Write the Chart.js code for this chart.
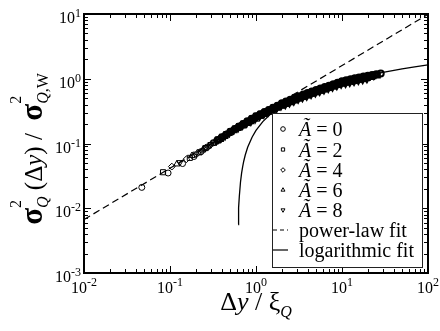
<!DOCTYPE html>
<html><head><meta charset="utf-8">
<script src="https://cdn.jsdelivr.net/npm/chart.js@4/dist/chart.umd.min.js"></script>
<style>html,body{margin:0;padding:0;background:#fff;}#wrap{width:440px;height:331px;}</style>
</head><body><div id="wrap"><canvas id="c" width="440" height="331"></canvas></div>
<script>
// ---- axis ticks ----
const xTickValues = [0.01, 0.1, 1, 10, 100];
const xTickExponents = ['-2', '-1', '0', '1', '2'];
const yTickValues = [0.001, 0.01, 0.1, 1, 10];
const yTickExponents = ['-3', '-2', '-1', '0', '1'];

// ---- legend labels ----
const seriesLabels = ['Ã = 0', 'Ã = 2', 'Ã = 4', 'Ã = 6', 'Ã = 8'];
const fitLabels = ['power-law fit', 'logarithmic fit'];

// ---- data ----
const A0_x = [0.047,0.095,0.14,0.19,0.23,0.27,0.316,0.355,0.398,0.447,0.501,0.562,0.631,0.708,0.794,0.891,1.00,1.12,1.26,1.41,1.58,1.78,2.00,2.24,2.51,2.82,3.16,3.55,3.98,4.47,5.01,5.62,6.31,7.08,7.94,8.91,10.0,11.2,12.6,14.1,15.8,17.8,20.0,22.4,25.1,28.2];
const A0_y = [0.021,0.035,0.049,0.063,0.075,0.088,0.102,0.113,0.125,0.138,0.153,0.166,0.182,0.198,0.221,0.241,0.264,0.284,0.306,0.330,0.355,0.382,0.418,0.445,0.475,0.508,0.538,0.569,0.601,0.635,0.671,0.706,0.743,0.781,0.824,0.867,0.917,0.949,0.980,1.015,1.048,1.083,1.115,1.147,1.176,1.209];
const A2_x = [0.083,0.17,0.22,0.26,0.324,0.363,0.407,0.457,0.513,0.575,0.646,0.724,0.813,0.912,1.02,1.15,1.29,1.45,1.62,1.82,2.04,2.29,2.57,2.88,3.24,3.63,4.07,4.57,5.13,5.75,6.46,7.24,8.13,9.12,10.2,11.5,12.9,14.5,16.2,18.2,20.4,22.9,25.7];
const A2_y = [0.036,0.060,0.073,0.085,0.103,0.114,0.126,0.139,0.154,0.168,0.183,0.200,0.219,0.239,0.262,0.283,0.304,0.327,0.352,0.379,0.409,0.437,0.466,0.498,0.527,0.557,0.589,0.622,0.658,0.692,0.728,0.766,0.807,0.849,0.892,0.923,0.953,0.987,1.019,1.053,1.084,1.115,1.144];
const A4_x = [0.105,0.155,0.21,0.25,0.29,0.331,0.372,0.417,0.468,0.525,0.589,0.661,0.741,0.832,0.933,1.05,1.17,1.32,1.48,1.66,1.86,2.09,2.34,2.63,2.95,3.31,3.72,4.17,4.68,5.25,5.89,6.61,7.41,8.32,9.33,10.5,11.7,13.2,14.8,16.6,18.6,20.9,23.4];
const A4_y = [0.044,0.057,0.071,0.082,0.093,0.104,0.115,0.127,0.141,0.156,0.170,0.186,0.203,0.220,0.240,0.263,0.284,0.305,0.329,0.354,0.381,0.407,0.434,0.463,0.495,0.525,0.554,0.586,0.619,0.654,0.688,0.724,0.762,0.803,0.845,0.882,0.913,0.943,0.977,1.008,1.041,1.073,1.103];
const A6_x = [0.12,0.18,0.24,0.28,0.339,0.380,0.427,0.479,0.537,0.603,0.676,0.759,0.851,0.955,1.07,1.20,1.35,1.51,1.70,1.91,2.14,2.40,2.69,3.02,3.39,3.80,4.27,4.79,5.37,6.03,6.76,7.59,8.51,9.55,10.7,12.0,13.5,15.1,17.0,19.1,21.4];
const A6_y = [0.048,0.065,0.079,0.091,0.105,0.116,0.129,0.143,0.158,0.172,0.188,0.205,0.220,0.240,0.263,0.283,0.305,0.328,0.353,0.380,0.403,0.430,0.458,0.490,0.519,0.549,0.580,0.613,0.647,0.681,0.717,0.754,0.795,0.836,0.867,0.897,0.926,0.959,0.990,1.023,1.054];
const A8_x = [0.13,0.20,0.26,0.30,0.347,0.389,0.437,0.490,0.550,0.617,0.692,0.776,0.871,0.977,1.10,1.23,1.38,1.55,1.74,1.95,2.19,2.45,2.75,3.09,3.47,3.89,4.37,4.90,5.50,6.17,6.92,7.76,8.71,9.77,11.0,12.3,13.8,15.5,17.4,19.5];
const A8_y = [0.051,0.069,0.086,0.097,0.106,0.118,0.130,0.144,0.159,0.174,0.190,0.207,0.219,0.240,0.262,0.283,0.304,0.328,0.353,0.380,0.397,0.424,0.452,0.483,0.512,0.541,0.572,0.604,0.638,0.672,0.707,0.743,0.784,0.824,0.848,0.878,0.907,0.939,0.970,1.001];

const powerFitX = [0.01, 100];
const powerFitY = [0.0067, 9.9];
const logFitX = [0.621,0.625,0.63,0.64,0.66,0.68,0.7,0.72,0.75,0.8,0.9,1.0,1.2,1.5,2,2.5,3,4,5,7,10,15,20,30,50,70,100];
const logFitY = [0.0056,0.0077,0.0102,0.0153,0.0252,0.0348,0.0441,0.0532,0.0664,0.0872,0.1251,0.159,0.2177,0.2896,0.3822,0.454,0.5127,0.6054,0.6772,0.7856,0.9004,1.031,1.1236,1.2542,1.4187,1.527,1.6419];

const seriesX = [A0_x, A2_x, A4_x, A6_x, A8_x];
const seriesY = [A0_y, A2_y, A4_y, A6_y, A8_y];

// ---- styles ----
const SERIF = '"Liberation Serif","Times New Roman","DejaVu Serif",serif';
const markerDefs = [
  {style:'circle', rot:0, r:3},
  {style:'rect', rot:0, r:3.6},
  {style:'rectRot', rot:0, r:3.4},
  {style:'triangle', rot:0, r:3.6},
  {style:'triangle', rot:180, r:3.6}
];

function pts(xs, ys) { return xs.map((x, i) => ({x: x, y: ys[i]})); }

// heavier outline where the markers crowd into a solid band
function bandWidth(c) {
  const r = c.raw;
  if (!r) return 1;
  if (r.x >= 0.6) return 2;
  if (r.x >= 0.35) return 1.5;
  return 1;
}

const datasets = seriesX.map((xs, i) => ({
  label: seriesLabels[i],
  data: pts(xs, seriesY[i]),
  showLine: false,
  pointStyle: markerDefs[i].style,
  pointRotation: markerDefs[i].rot,
  pointRadius: markerDefs[i].r,
  pointBorderWidth: bandWidth,
  pointBorderColor: '#000',
  pointBackgroundColor: 'rgba(0,0,0,0)',
  borderColor: '#000',
  backgroundColor: 'rgba(0,0,0,0)'
}));
datasets.push({
  label: fitLabels[0], data: pts(powerFitX, powerFitY), showLine: true,
  borderColor: '#000', borderWidth: 1.2, borderDash: [7, 4], pointRadius: 0, fill: false
});
datasets.push({
  label: fitLabels[1], data: pts(logFitX, logFitY), showLine: true,
  borderColor: '#000', borderWidth: 1.3, pointRadius: 0, fill: false
});

function drawRuns(ctx, runs, measureOnly) {
  let cx = 0;
  for (const r of runs) {
    if (r.stack) {
      let w = 0;
      for (const line of r.stack) {
        let lx = cx;
        for (const p of line.parts) {
          ctx.font = p.f;
          if (!measureOnly) ctx.fillText(p.t, lx, line.dy);
          lx += ctx.measureText(p.t).width;
        }
        w = Math.max(w, lx - cx);
      }
      cx += w;
    } else {
      ctx.font = r.f;
      if (!measureOnly) ctx.fillText(r.t, cx, r.dy || 0);
      cx += ctx.measureText(r.t).width;
    }
  }
  return cx;
}

function drawMarker(ctx, style, rot, x, y, r) {
  ctx.beginPath();
  if (style === 'circle') {
    ctx.arc(x, y, r, 0, Math.PI * 2);
  } else if (style === 'rect') {
    const s = r * Math.SQRT1_2;
    ctx.rect(x - s, y - s, 2 * s, 2 * s);
  } else if (style === 'rectRot') {
    ctx.moveTo(x, y - r); ctx.lineTo(x + r, y); ctx.lineTo(x, y + r); ctx.lineTo(x - r, y); ctx.closePath();
  } else {
    const d = rot === 180 ? -1 : 1;
    const h = r * 0.866;
    ctx.moveTo(x, y - d * r);
    ctx.lineTo(x + h, y + d * r * 0.5);
    ctx.lineTo(x - h, y + d * r * 0.5);
    ctx.closePath();
  }
  ctx.stroke();
}

const decor = {
  id: 'decor',
  afterDraw(chart) {
    const ctx = chart.ctx, a = chart.chartArea, xs = chart.scales.x, ys = chart.scales.y;
    ctx.save();
    ctx.fillStyle = '#000'; ctx.strokeStyle = '#000';
    // ticks (inward, all four sides)
    ctx.lineWidth = 1;
    ctx.beginPath();
    xTickValues.forEach((v, i) => {
      const mults = i < xTickValues.length - 1 ? [1,2,3,4,5,6,7,8,9] : [1];
      mults.forEach(m => {
        const px = Math.round(xs.getPixelForValue(v * m)) + 0.5;
        const len = m === 1 ? 7 : 4;
        ctx.moveTo(px, a.bottom); ctx.lineTo(px, a.bottom - len);
        ctx.moveTo(px, a.top); ctx.lineTo(px, a.top + len);
      });
    });
    yTickValues.forEach((v, i) => {
      const mults = i < yTickValues.length - 1 ? [1,2,3,4,5,6,7,8,9] : [1];
      mults.forEach(m => {
        const py = Math.round(ys.getPixelForValue(v * m)) + 0.5;
        const len = m === 1 ? 7 : 4;
        ctx.moveTo(a.left, py); ctx.lineTo(a.left + len, py);
        ctx.moveTo(a.right, py); ctx.lineTo(a.right - len, py);
      });
    });
    ctx.stroke();
    // frame
    ctx.lineWidth = 2;
    ctx.strokeRect(a.left, a.top, a.right - a.left, a.bottom - a.top);

    // tick labels
    const FB = '16px ' + SERIF, FE = '12px ' + SERIF;
    ctx.textBaseline = 'alphabetic'; ctx.textAlign = 'left';
    xTickValues.forEach((v, i) => {
      const px = xs.getPixelForValue(v);
      ctx.font = FB; const wb = ctx.measureText('10').width;
      ctx.font = FE; const we = ctx.measureText(xTickExponents[i]).width;
      const x0 = px - (wb + we) / 2;
      ctx.font = FB; ctx.fillText('10', x0, a.bottom + 20);
      ctx.font = FE; ctx.fillText(xTickExponents[i], x0 + wb, a.bottom + 13);
    });
    yTickValues.forEach((v, i) => {
      const py = ys.getPixelForValue(v);
      ctx.font = FB; const wb = ctx.measureText('10').width;
      ctx.font = FE; const we = ctx.measureText(yTickExponents[i]).width;
      const x0 = a.left - 3 - we - wb;
      ctx.font = FB; ctx.fillText('10', x0, py + 9);
      ctx.font = FE; ctx.fillText(yTickExponents[i], x0 + wb, py + 3);
    });

    // x axis title
    const xRuns = [
      {t:'Δ', f:'26px ' + SERIF},
      {t:'y', f:'italic 26px ' + SERIF},
      {t:' / ξ', f:'26px ' + SERIF},
      {stack:[{parts:[{t:'Q', f:'italic 16px ' + SERIF}], dy:7}]}
    ];
    const xw = drawRuns(ctx, xRuns, true);
    ctx.save();
    ctx.translate((a.left + a.right) / 2 - xw / 2, 310);
    drawRuns(ctx, xRuns, false);
    ctx.restore();

    // y axis title
    const FS = 'bold 31px ' + SERIF, FM = '25px ' + SERIF, FMI = 'italic 25px ' + SERIF;
    const FSUP = '16px ' + SERIF, FSUBI = 'italic 16px ' + SERIF, FSUB = '16px ' + SERIF;
    const yRuns = [
      {t:'σ', f:FS},
      {stack:[{parts:[{t:'2', f:FSUP}], dy:-21}, {parts:[{t:'Q', f:FSUBI}], dy:6}]},
      {t:' (Δ', f:FM}, {t:'y', f:FMI}, {t:') /  ', f:FM},
      {t:'σ', f:FS},
      {stack:[{parts:[{t:'2', f:FSUP}], dy:-21}, {parts:[{t:'Q', f:FSUBI}, {t:',W', f:FSUB}], dy:6}]}
    ];
    const yw = drawRuns(ctx, yRuns, true);
    ctx.save();
    ctx.translate(42, 149 + yw / 2);
    ctx.rotate(-Math.PI / 2);
    drawRuns(ctx, yRuns, false);
    ctx.restore();

    // legend
    const L = {x0: 272, y0: 113, x1: 422, y1: 267};
    ctx.fillStyle = '#fff';
    ctx.fillRect(L.x0, L.y0, L.x1 - L.x0, L.y1 - L.y0);
    ctx.lineWidth = 1; ctx.strokeStyle = '#222';
    ctx.strokeRect(L.x0 + 0.5, L.y0 + 0.5, L.x1 - L.x0, L.y1 - L.y0);
    ctx.strokeStyle = '#000'; ctx.fillStyle = '#000';
    const rowY = [129, 149.5, 170, 190, 210, 230, 250];
    const FL = '20px ' + SERIF, FLI = 'italic 20px ' + SERIF;
    seriesLabels.forEach((lab, i) => {
      drawMarker(ctx, markerDefs[i].style, markerDefs[i].rot, 283, rowY[i], 2.3);
      ctx.font = FLI; ctx.fillText(lab.charAt(0), 299, rowY[i] + 7);
      const w = ctx.measureText(lab.charAt(0)).width;
      ctx.font = FL; ctx.fillText(lab.slice(1), 299 + w, rowY[i] + 7);
    });
    // fit symbols
    ctx.lineWidth = 1.2;
    ctx.setLineDash([4, 3]);
    ctx.beginPath(); ctx.moveTo(273, rowY[5]); ctx.lineTo(288, rowY[5]); ctx.stroke();
    ctx.setLineDash([]);
    ctx.beginPath(); ctx.moveTo(273, rowY[6]); ctx.lineTo(288, rowY[6]); ctx.stroke();
    ctx.font = FL;
    ctx.fillText(fitLabels[0], 299, rowY[5] + 7);
    ctx.fillText(fitLabels[1], 299, rowY[6] + 7);
    ctx.restore();
  }
};

new Chart(document.getElementById('c'), {
  type: 'scatter',
  data: { datasets: datasets },
  options: {
    responsive: false,
    maintainAspectRatio: false,
    devicePixelRatio: 1,
    animation: false,
    events: [],
    layout: { padding: { left: 84, top: 14, right: 12, bottom: 58 } },
    plugins: { legend: { display: false }, tooltip: { enabled: false } },
    scales: {
      x: { type: 'logarithmic', min: 0.01, max: 100, display: false },
      y: { type: 'logarithmic', min: 0.001, max: 10, display: false }
    }
  },
  plugins: [decor]
});
</script>
</body></html>
